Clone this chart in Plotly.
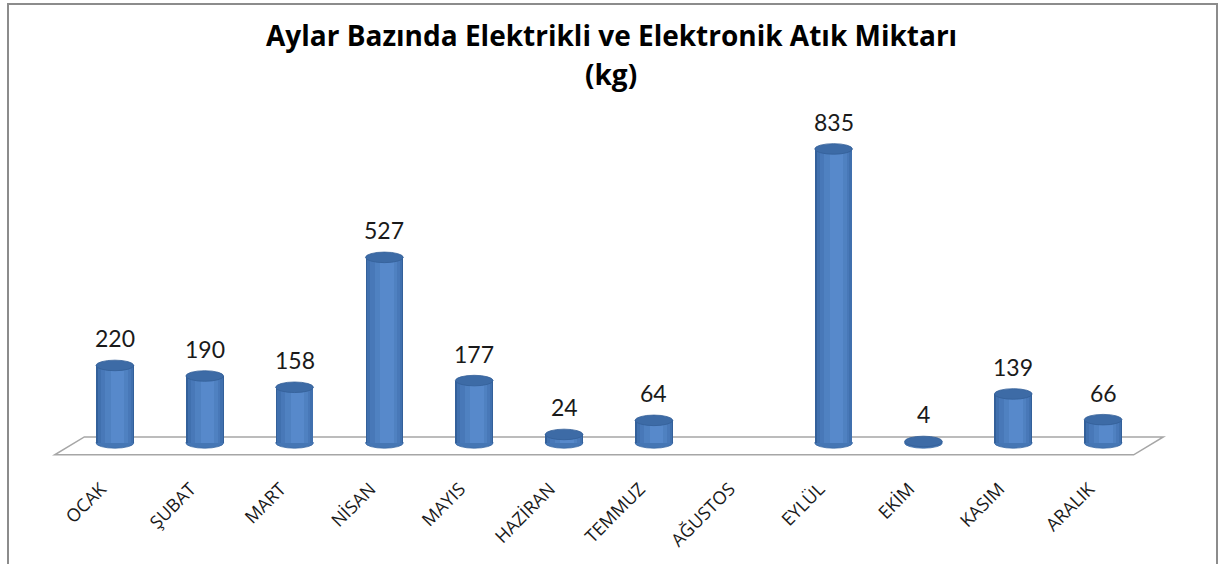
import plotly.graph_objects as go

months = ["OCAK", "ŞUBAT", "MART", "NİSAN", "MAYIS", "HAZİRAN", "TEMMUZ",
          "AĞUSTOS", "EYLÜL", "EKİM", "KASIM", "ARALIK"]
values = [220, 190, 158, 527, 177, 24, 64, None, 835, 4, 139, 66]
title_lines = ["Aylar Bazında Elektrikli ve Elektronik Atık Miktarı", "(kg)"]

W, H = 1222, 564
ML, MR, MT, MB = 43, 47, 100, 94
XR = [-0.8, 11.8]
YR = [-77, 974]

xs = list(range(len(months)))
BW = 0.42          # bar width in category units
CAP = 15           # half-height of ellipse caps in value units


def px_x(p):
    return (p - ML) / (W - ML - MR)


def px_y(p):
    return 1 - (p - MT) / (H - MT - MB)


fig = go.Figure()

# cylinder body: layered bars for shading
shades = [
    (BW, 0.0, "#33609A"),
    (0.39, 0.005, "#4070AE"),
    (0.33, 0.01, "#4878B8"),
    (0.25, 0.02, "#4F81C1"),
    (0.15, 0.03, "#5789CB"),
]
for w, off, col in shades:
    fig.add_trace(go.Bar(
        x=[x + off for x in xs], y=values, width=w,
        marker=dict(color=col, line=dict(width=0)),
        hoverinfo="skip", showlegend=False,
    ))

shapes = []
# floor
shapes.append(dict(
    type="path", xref="x", yref="y", layer="below",
    path="M -0.34 17 L 11.67 17 L 11.34 -34 L -0.67 -34 Z",
    line=dict(color="#A6A6A6", width=1.5), fillcolor="rgba(0,0,0,0)",
))
for x, v in zip(xs, values):
    if v is None:
        continue
    # bottom cap (below bars, lower half visible)
    shapes.append(dict(
        type="circle", xref="x", yref="y", layer="below",
        x0=x - BW / 2, x1=x + BW / 2, y0=-CAP, y1=CAP,
        fillcolor="#4576B4", line=dict(color="#3A68A3", width=0.8),
    ))
    # top cap
    shapes.append(dict(
        type="circle", xref="x", yref="y", layer="above",
        x0=x - BW / 2, x1=x + BW / 2, y0=v - CAP, y1=v + CAP,
        fillcolor="#3D6BA6", line=dict(color="#335F98", width=0.8),
    ))

# outer frame
shapes.append(dict(
    type="rect", xref="paper", yref="paper",
    x0=px_x(8), x1=px_x(1217), y0=px_y(590), y1=px_y(4),
    line=dict(color="#8C8C8C", width=2), fillcolor="rgba(0,0,0,0)",
))

annotations = []
# title lines
for line, ypx in zip(title_lines, [35, 74]):
    annotations.append(dict(
        x=px_x(611), y=px_y(ypx), xref="paper", yref="paper",
        text="<b>" + line + "</b>", showarrow=False,
        xanchor="center", yanchor="middle",
        font=dict(family="'Open Sans', sans-serif", size=28, color="#000000"),
    ))
# data labels
for x, v in zip(xs, values):
    if v is None:
        continue
    annotations.append(dict(
        x=x, y=v, xref="x", yref="y", text=str(v), showarrow=False,
        yanchor="middle", yshift=27,
        font=dict(family="Lato, 'Open Sans', sans-serif", size=23, color="#1a1a1a"),
    ))

fig.update_layout(
    width=W, height=H,
    margin=dict(l=ML, r=MR, t=MT, b=MB),
    paper_bgcolor="white", plot_bgcolor="white",
    barmode="overlay", bargap=0,
    xaxis=dict(
        range=XR, tickmode="array", tickvals=xs, ticktext=months,
        tickangle=-45, showgrid=False, zeroline=False, showline=False,
        ticks="", ticklabelshift=-14, ticklabelstandoff=4,
        tickfont=dict(family="'Open Sans', sans-serif", size=18, color="#1a1a1a"),
        fixedrange=True,
    ),
    yaxis=dict(range=YR, visible=False, fixedrange=True),
    shapes=shapes,
    annotations=annotations,
    showlegend=False,
)

fig.write_html(
    "out.html",
    config={"displayModeBar": False},
    post_script="document.body.style.margin='0';document.body.style.overflow='hidden';",
)
